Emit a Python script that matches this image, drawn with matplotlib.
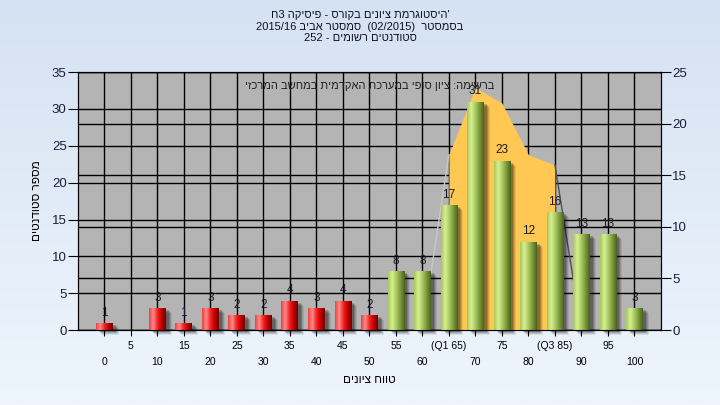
import re
import numpy as np
import matplotlib
matplotlib.use("Agg")
import matplotlib.pyplot as plt
import matplotlib.transforms as mtransforms
from matplotlib.colors import LinearSegmentedColormap

plt.rcParams['font.family'] = ['Liberation Sans', 'DejaVu Sans']

# data
grades = [0, 5, 10, 15, 20, 25, 30, 35, 40, 45, 50, 55, 60, 65, 70, 75, 80, 85, 90, 95, 100]
counts = [1, 0, 3, 1, 3, 2, 2, 4, 3, 4, 2, 8, 8, 17, 31, 23, 12, 16, 13, 13, 3]
tick_labels = ['0', '5', '10', '15', '20', '25', '30', '35', '40', '45', '50', '55', '60',
               '(Q1 65)', '70', '75', '80', '(Q3 85)', '90', '95', '100']
pass_grade = 55
q1, q3 = 65, 85
# curve on the right axis
curve_grades = [60, 65, 70, 75, 80, 85, 90]
curve_values = [0, 17, 23.5, 22, 17, 16, 0]

title_lines = ["'היסטוגרמת ציונים בקורס - פיסיקה 3ח",
               "בסמסטר  (02/2015)  סמסטר אביב 2015/16",
               "סטודנטים רשומים - 252"]
note = "ברשימה: ציון סופי במערכת האקדמית במחשב המרכזי"
xlabel = "טווח ציונים"
ylabel = "מספר סטודנטים"


def rtl(s):
    # simple visual order for hebrew text (no bidi in matplotlib)
    tokens = re.findall(r'[0-9A-Za-z/.]+|.', s)
    mirror = {'(': ')', ')': '('}
    return ''.join(mirror.get(t, t) for t in reversed(tokens))


fig = plt.figure(figsize=(7.2, 4.05), dpi=100)

# background gradient
bg = fig.add_axes([0, 0, 1, 1], zorder=-10)
bg_cmap = LinearSegmentedColormap.from_list('bg', ['#d5e2f3', '#eef5fc'])
bg.imshow(np.linspace(0, 1, 256)[:, None], cmap=bg_cmap, aspect='auto', extent=[0, 1, 0, 1])
bg.axis('off')

ax = fig.add_axes([0.108, 0.185, 0.81, 0.637])
ax2 = ax.twinx()
ax2.set_zorder(ax.get_zorder() - 1)
ax.patch.set_visible(False)
ax2.patch.set_visible(True)
ax2.patch.set_facecolor('#b4b4b4')

ax.set_xlim(-5, 105)
ax.set_ylim(0, 35)
ax2.set_ylim(0, 25)

# grids
ax.set_axisbelow(True)
ax.set_yticks(range(0, 36, 5))
ax2.set_yticks(range(0, 26, 5))
ax.set_xticks(grades)
ax.grid(True, color='black', lw=1)
ax2.grid(True, axis='y', color='black', lw=1)

# orange area between Q1 and Q3 (right axis scale)
cx = np.array(curve_grades)
cy = np.array(curve_values)
inside = (cx >= q1) & (cx <= q3)
ax.fill_between(cx[inside], cy[inside], color='#ffc853', lw=0, zorder=1,
                transform=ax2.transData)
ax.plot(cx[:2], cy[:2], color='#c8c8c8', lw=1, zorder=1, transform=ax2.transData)
ax.plot(cx[-2:], cy[-2:], color='#505050', lw=1, zorder=1, transform=ax2.transData)

# bars
width = 3.15
for dx, dy, a in [(6, -5, 0.08), (5, -4, 0.12), (4, -3, 0.16), (3, -2, 0.2)]:
    tr = mtransforms.offset_copy(ax.transData, fig=fig, x=dx, y=dy, units='dots')
    ax.bar(grades, counts, width, color='black', alpha=a, lw=0, transform=tr,
           zorder=1.5, clip_on=False)

red_cmap = LinearSegmentedColormap.from_list('red', ['#f04040', '#ff8c8c', '#f52222', '#c00000', '#6e0000'])
green_cmap = LinearSegmentedColormap.from_list('green', ['#a8c858', '#d8f094', '#a8c860', '#7a9838', '#4a6020'])
bars = ax.bar(grades, counts, width, color='none', lw=0, zorder=2)
grad = np.linspace(0, 1, 64)[None, :]
for g, p in zip(grades, bars):
    if p.get_height() == 0:
        continue
    cm = green_cmap if g >= pass_grade else red_cmap
    x0 = p.get_x()
    im = ax.imshow(grad, cmap=cm, aspect='auto', zorder=2,
                   extent=(x0, x0 + p.get_width(), 0, p.get_height()))
    im.set_clip_path(p)

for g, v in zip(grades, counts):
    if v > 0:
        ax.annotate(str(v), (g, v), xytext=(0, 3), textcoords='offset points',
                    ha='center', va='bottom', fontsize=8.5, color='#1a1a2a', zorder=3)

ax.set_xlim(-5, 105)
ax.set_ylim(0, 35)

# ticks
ax.set_xticklabels([('\n' + t) if i % 2 == 0 else t for i, t in enumerate(tick_labels)])
for lbl in ax.get_xticklabels():
    lbl.set_linespacing(1.75)
ax.tick_params(axis='x', length=4, pad=4, labelsize=7.5, color='black')
ax.tick_params(axis='y', length=7, pad=1, labelsize=9.5, labelcolor='#1c1c3c')
ax2.tick_params(axis='y', length=7, pad=1, labelsize=9.5, labelcolor='#1c1c3c')
for s in ax.spines.values():
    s.set_color('black')

ax.set_xlabel(rtl(xlabel), fontsize=8.5)
ax.xaxis.set_label_coords(0.5, -0.17)
ax.set_ylabel(rtl(ylabel), fontsize=8.5)
ax.yaxis.set_label_coords(-0.06, 0.5)

ax.text(0.5, 0.945, rtl(note), transform=ax.transAxes, ha='center', va='center',
        fontsize=8, color='#202020', zorder=0.8)

fig.text(0.5, 1 - 10 / 405, '\n'.join(rtl(t) for t in title_lines), ha='center', va='top',
         fontsize=8, linespacing=1.2, color='#101020')

fig.savefig('out.png', dpi=100)
